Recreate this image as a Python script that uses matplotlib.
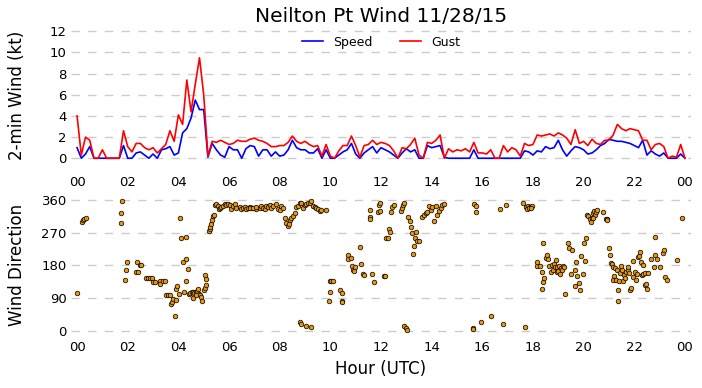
import numpy as np
import matplotlib
matplotlib.use('Agg')
import matplotlib.pyplot as plt

# 10-minute values, 00:00 to 24:00 UTC
gust = [4.0, 0.3, 2.0, 1.7, 0.0, 0.0,
        0.8, 0.0, 0.0, 0.0, 0.0, 2.6,
        1.1, 0.6, 1.4, 1.4, 1.0, 0.8,
        1.0, 0.5, 0.9, 1.3, 2.6, 1.6,
        4.1, 3.2, 7.4, 4.4, 7.0, 9.5,
        6.0, 0.2, 1.6, 1.5, 1.7, 1.5,
        1.3, 1.4, 1.7, 1.6, 1.6, 1.8,
        1.9, 1.7, 1.6, 1.4, 1.1, 1.1,
        1.2, 1.2, 1.5, 2.1, 1.6, 1.4,
        1.6, 1.3, 1.1, 1.2, 0.2, 1.3,
        0.2, 0.0, 0.7, 1.2, 1.2, 2.1,
        1.2, 0.1, 1.2, 1.3, 1.7, 1.3,
        1.5, 1.4, 1.2, 0.7, 0.0, 1.0,
        0.9, 1.3, 1.9, 0.3, 0.0, 1.5,
        1.4, 1.7, 2.2, 0.0, 0.9, 0.6,
        0.8, 0.7, 0.9, 0.6, 1.5, 0.5,
        0.5, 0.4, 0.8, 0.0, 0.0, 1.2,
        0.6, 1.0, 0.8, 0.2, 1.4, 1.2,
        1.3, 2.2, 2.1, 2.2, 2.3, 2.1,
        2.4, 2.2, 1.9, 1.3, 2.7, 1.4,
        1.6, 1.2, 1.8, 1.4, 1.3, 1.7,
        1.7, 2.2, 3.2, 2.8, 2.6, 2.8,
        2.7, 2.6, 1.7, 1.7, 0.8, 1.3,
        1.4, 1.1, 0.0, 0.2, 0.1, 1.3,
        0.0]
speed = [1.0, 0.0, 0.4, 1.1, 0.0, 0.0,
         0.0, 0.0, 0.0, 0.0, 0.0, 1.2,
         0.0, 0.0, 0.5, 0.6, 0.3, 0.0,
         0.4, 0.0, 0.8, 0.9, 1.1, 0.3,
         0.5, 2.4, 2.8, 3.8, 5.5, 4.6,
         4.6, 0.1, 1.4, 0.8, 0.3, 0.1,
         1.1, 0.8, 0.8, 0.0, 0.9, 1.2,
         1.1, 0.2, 0.8, 0.8, 0.2, 0.6,
         0.2, 0.3, 0.8, 1.7, 1.0, 0.8,
         0.8, 0.5, 0.5, 0.9, 0.0, 0.8,
         0.0, 0.0, 0.3, 0.6, 0.8, 1.4,
         0.4, 0.0, 0.5, 0.8, 1.1, 0.5,
         1.0, 0.8, 0.6, 0.3, 0.0, 0.5,
         0.9, 0.6, 0.8, 0.0, 0.0, 1.2,
         1.0, 1.1, 1.2, 0.1, 0.0, 0.0,
         0.0, 0.0, 0.0, 0.0, 0.8, 0.0,
         0.0, 0.0, 0.0, 0.0, 0.0, 0.0,
         0.0, 0.0, 0.0, 0.0, 0.7, 0.6,
         0.3, 0.7, 0.6, 1.1, 0.9, 1.0,
         1.7, 0.8, 0.2, 0.7, 1.1, 1.0,
         0.8, 0.4, 0.5, 0.8, 1.2, 1.4,
         1.8, 1.7, 1.6, 1.6, 1.5, 1.4,
         1.2, 1.0, 1.7, 0.3, 0.7, 0.4,
         0.2, 0.5, 0.0, 0.0, 0.0, 0.4,
         0.0]
times = np.arange(len(gust)) * 10 / 60.0

dir_hour = [0.01, 0.18, 0.24, 0.29, 0.34, 1.76, 1.75, 1.75, 1.96, 1.92, 1.88,
            2.38, 2.47, 2.51, 2.34, 2.42, 2.74, 2.80, 2.87, 2.95, 3.00, 3.07,
            3.26, 3.26, 3.39, 3.46, 3.53, 3.59, 3.66, 3.70, 3.74, 3.79, 3.86,
            3.92, 3.96, 3.89, 4.01, 4.08, 4.11, 4.32, 4.18, 4.32, 4.38, 4.21,
            4.29, 4.42, 4.47, 4.53, 4.58, 4.63, 4.68, 4.74, 4.78, 4.82, 4.87,
            4.91, 4.95, 4.58, 4.71, 5.00, 5.05, 5.08, 5.07, 5.11,
            5.20, 5.24, 5.26, 5.30, 5.34, 5.37, 5.39, 5.43, 5.50, 5.57, 5.61,
            5.63, 5.70, 5.76, 5.83, 5.89, 5.96, 6.03, 6.09, 6.16, 6.22, 6.29,
            6.42, 6.49, 6.55, 6.62, 6.68, 6.75, 6.82, 6.88, 6.95, 7.08,
            6.82, 6.95, 7.08, 7.21, 7.28, 7.34, 7.41, 7.47, 7.54, 7.61, 7.67,
            7.74, 7.87, 7.93, 8.00, 8.07, 8.13, 8.20, 8.26, 8.33, 8.39, 8.46,
            8.53, 8.59, 8.37, 8.63, 8.72, 8.79, 8.83, 8.92, 8.99, 9.05, 9.12,
            9.18, 9.25, 9.32, 9.38, 9.45, 9.51, 9.58, 9.64, 9.84,
            8.79, 8.83, 9.05, 9.25, 9.97, 10.04, 10.11, 9.93, 9.97, 10.39,
            10.45, 10.47, 10.47, 10.71, 10.71, 10.83, 10.86, 10.89, 10.92,
            10.96, 11.18, 11.22, 11.29, 11.33, 11.55, 11.55, 11.58, 11.66,
            11.71, 11.88, 11.92, 11.95, 11.97, 12.12, 12.17, 12.21, 12.28,
            12.32, 12.37, 12.41, 12.45, 12.50, 12.80, 12.84, 12.87, 12.89,
            12.89, 12.97, 13.03, 13.08, 13.13, 13.17, 13.22, 13.39, 13.33,
            13.43, 13.49, 13.32, 13.28, 13.63, 13.70, 13.76, 13.83, 13.89,
            13.96, 14.03, 14.09, 14.16, 14.22, 14.29, 14.36, 14.42, 14.49,
            15.67, 15.75, 15.75, 15.62, 15.62, 15.94, 16.33, 16.83, 17.69,
            16.70, 16.94, 17.62, 17.73, 17.82, 17.88, 17.95, 17.75, 17.86,
            17.94,
            18.15, 18.17, 18.28, 18.34, 18.38, 18.38, 18.34, 18.44, 18.52,
            18.57, 18.61, 18.65, 18.70, 18.74, 18.80, 18.83, 18.87, 18.91,
            18.94, 18.96, 19.00, 19.04, 19.07, 19.09, 19.13, 19.17, 19.23,
            19.27, 19.37, 19.42, 19.49, 19.54, 19.65, 19.66, 19.70, 19.73,
            19.81, 19.84, 19.90, 19.96, 20.00, 20.04, 20.08,
            20.12, 20.19, 20.25, 20.32, 20.36, 20.41, 20.45, 20.49, 20.54,
            20.28, 20.38, 20.75, 20.88, 20.93, 20.91, 20.99, 21.04,
            21.07, 21.11, 21.17, 21.20, 21.24, 21.15, 21.28, 21.31, 21.36,
            21.36, 21.38, 21.44, 21.48, 21.53, 21.57, 21.59, 21.64, 21.68,
            21.74, 21.77, 21.81, 21.83, 21.87, 21.94, 21.96, 22.03, 22.07,
            22.10, 22.16, 22.20, 22.23, 22.25, 22.29, 22.33, 22.36, 22.42,
            22.42, 22.46, 22.49, 22.55, 22.65, 22.78, 22.81, 22.83, 22.91,
            23.02, 23.12, 23.16, 23.20, 23.28, 23.68, 23.87]
dir_deg = [105, 300, 306, 309, 311, 358, 325, 297, 190, 168, 140,
           188, 181, 181, 162, 162, 146, 146, 146, 146, 135, 135,
           138, 129, 138, 138, 99, 99, 99, 73, 80, 86, 40,
           116, 122, 84, 101, 311, 256, 258, 190, 197, 170, 106,
           137, 100, 103, 106, 107, 104, 106, 109, 114, 102, 98,
           94, 83, 91, 98, 112, 118, 126, 153, 142,
           274, 280, 285, 293, 305, 317, 319, 346, 348, 343, 335,
           337, 341, 344, 348, 346, 349, 346, 335, 344, 349, 337,
           341, 335, 339, 341, 335, 339, 341, 337, 339, 335,
           339, 337, 341, 337, 344, 339, 335, 344, 341, 346, 339,
           344, 349, 335, 332, 344, 339, 311, 298, 289, 305, 311,
           317, 323, 293, 341, 344, 351, 353, 339, 346, 348, 351,
           353, 358, 344, 341, 337, 335, 330, 332, 332,
           25, 17, 14, 10, 137, 137, 137, 82, 107, 111,
           104, 82, 78, 208, 197, 201, 179, 167, 164,
           176, 231, 184, 155, 153, 314, 309, 332, 157,
           135, 328, 346, 351, 330, 151, 151, 254, 254,
           279, 273, 328, 341, 346, 330, 339, 346, 351,
           14, 8, 2, 314, 302, 286, 270, 273, 254,
           247, 247, 233, 212, 314, 320, 323, 328, 344,
           332, 341, 303, 344, 320, 330, 337, 346, 348,
           348, 344, 328, 6, 4, 25, 41, 19, 11,
           334, 346, 353, 341, 344, 342, 344, 335, 337,
           339,
           179, 190, 179, 161, 242, 135, 115, 144, 201,
           208, 197, 177, 161, 181, 166, 185, 176, 194,
           161, 175, 164, 179, 157, 172, 166, 177, 175,
           101, 242, 229, 155, 223, 166, 124, 190, 151,
           132, 112, 206, 157, 242, 192, 256,
           320, 316, 309, 311, 323, 330, 320, 326, 332,
           300, 311, 328, 307, 309, 305, 227, 208,
           186, 183, 176, 151, 172, 140, 140, 167, 112,
           82, 137, 158, 178, 166, 137, 153, 144, 161,
           167, 176, 158, 112, 118, 192, 149, 162, 140,
           155, 204, 207, 218, 190, 153, 181, 155, 158,
           126, 128, 115, 160, 197, 176, 259, 208, 197,
           176, 213, 222, 149, 140, 195, 311]

hour_ticks = [0, 2, 4, 6, 8, 10, 12, 14, 16, 18, 20, 22, 24]
hour_labels = ['00', '02', '04', '06', '08', '10', '12', '14', '16', '18', '20', '22', '00']

fig = plt.figure(figsize=(7.02, 3.88), dpi=100)
ax1 = fig.add_axes([71/702., 0.5758, 620/702., 0.3544])
ax2 = fig.add_axes([71/702., 0.1338, 620/702., 0.3647])

ax1.plot(times, speed, color='blue', lw=1.2, label='Speed')
ax1.plot(times, gust, color='red', lw=1.2, label='Gust')
ax1.set_ylim(-0.6, 12.4)
ax1.set_yticks([0, 2, 4, 6, 8, 10, 12])
ax1.set_ylabel('2-min Wind (kt)', fontsize=12)
ax1.set_title('Neilton Pt Wind 11/28/15', fontsize=14.5, pad=4)
ax1.legend(loc='upper center', bbox_to_anchor=(0.5, 1.02), ncol=2, frameon=False,
           fontsize=9, handlelength=1.7, handletextpad=0.8, columnspacing=2.2)

ax2.scatter(dir_hour, dir_deg, s=11, c='#e8960c', edgecolors='black', linewidths=0.5, zorder=3)
ax2.set_ylim(-15, 375)
ax2.set_yticks([0, 90, 180, 270, 360])
ax2.set_ylabel('Wind Direction', fontsize=12)
ax2.set_xlabel('Hour (UTC)', fontsize=12, labelpad=4)

for ax, pad in [(ax1, 8.5), (ax2, 3.5)]:
    ax.set_xlim(-0.24, 24.24)
    ax.set_xticks(hour_ticks)
    ax.set_xticklabels(hour_labels)
    ax.tick_params(axis='x', length=0, pad=pad, labelsize=9.5)
    ax.tick_params(axis='y', length=0, pad=3, labelsize=9.5)
    for s in ax.spines.values():
        s.set_visible(False)
    ax.grid(axis='y', color='#cccccc', lw=1, linestyle=(0, (6, 6)))
    ax.set_axisbelow(True)

ax1.yaxis.set_label_coords(-0.072, 0.5)
ax2.yaxis.set_label_coords(-0.072, 0.5)

fig.savefig('out.png', dpi=100)
